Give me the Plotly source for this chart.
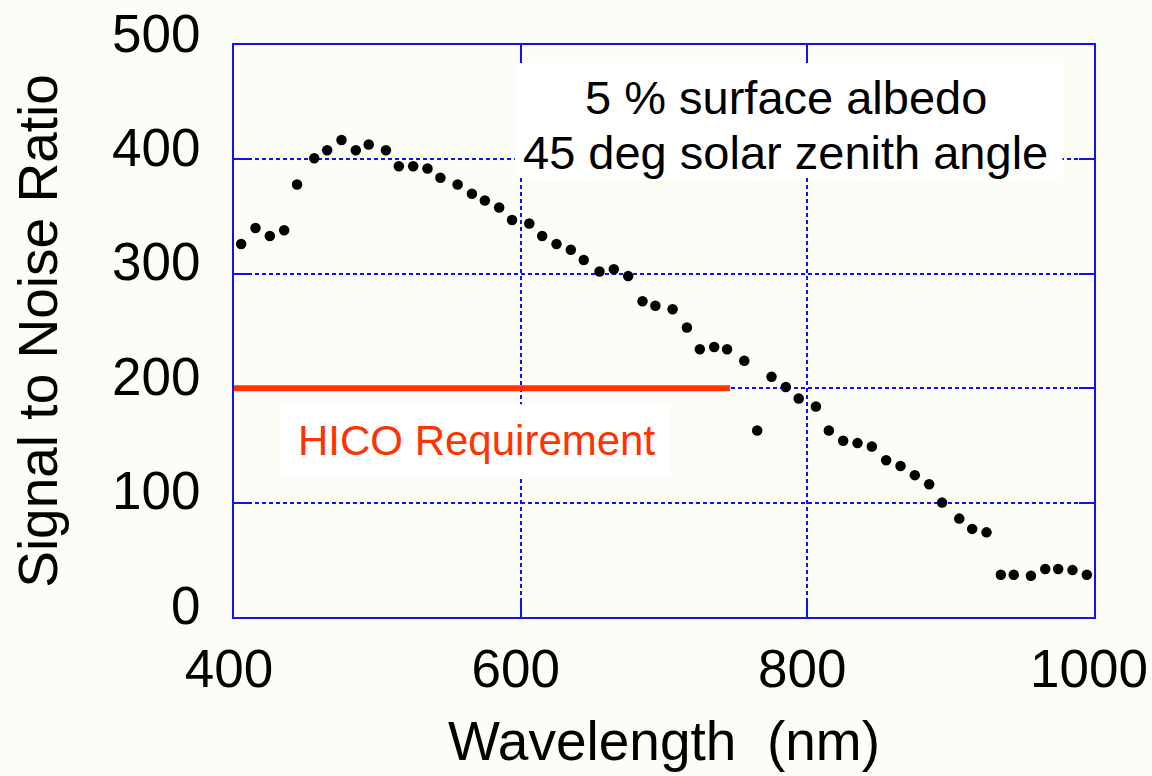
import plotly.graph_objects as go

wavelength_nm = [405, 415, 425, 435, 444, 456, 465, 475, 485, 494,
                 506, 515, 525, 535, 544, 556, 566, 575, 585, 594,
                 606, 615, 625, 635, 644, 655, 665, 675, 685, 694,
                 706, 716, 725, 735, 744, 756, 765, 775, 785, 794,
                 806, 815, 825, 835, 845, 855, 865, 875, 885, 894,
                 906, 915, 925, 935, 944, 956, 966, 975, 985, 995]
snr = [326, 340, 333, 338, 378, 401, 408, 417, 408, 413,
       408, 394, 394, 392, 384, 378, 370, 364, 358, 347,
       344, 333, 326, 321, 312, 302, 304, 298, 276, 272,
       269, 253, 234, 236, 234, 224, 163, 210, 201, 191,
       184, 163, 154, 152, 149, 137, 132, 124, 116, 100,
       86, 77, 74, 37, 37, 36, 42, 42, 41, 37]

req_x = [400, 746]
req_y = [200, 200]

x_ticks = [400, 600, 800, 1000]
y_ticks = [0, 100, 200, 300, 400, 500]

FONT = "Liberation Sans, Arial, sans-serif"
BLUE = "#1010f0"
RED = "#ff3300"
BG = "#fdfdf8"

fig = go.Figure()
fig.add_trace(go.Scatter(x=wavelength_nm, y=snr, mode="markers",
                         marker=dict(color="black", size=10.5),
                         showlegend=False, cliponaxis=False))
fig.add_trace(go.Scatter(x=req_x, y=req_y, mode="lines",
                         line=dict(color=RED, width=6),
                         showlegend=False))

# white boxes behind texts (above grid, below traces)
fig.add_shape(type="rect", xref="x", yref="y", x0=596, x1=978, y0=384, y1=484,
              fillcolor="white", line=dict(width=0), layer="between")
fig.add_shape(type="rect", xref="x", yref="y", x0=432, x1=704, y0=123, y1=186,
              fillcolor="white", line=dict(width=0), layer="between")

fig.add_annotation(x=785, y=454, xref="x", yref="y", text="5 % surface albedo",
                   showarrow=False, font=dict(family=FONT, size=47, color="black"))
fig.add_annotation(x=785, y=406, xref="x", yref="y", text="45 deg solar zenith angle",
                   showarrow=False, font=dict(family=FONT, size=47, color="black"))
fig.add_annotation(x=569, y=154, xref="x", yref="y", text="HICO Requirement",
                   showarrow=False, font=dict(family=FONT, size=42, color=RED))

axis_common = dict(showline=True, linecolor=BLUE, linewidth=2, mirror="allticks",
                   ticks="inside", ticklen=15, tickwidth=2, tickcolor=BLUE,
                   showgrid=True, gridcolor=BLUE, gridwidth=2, griddash="4px,3px",
                   zeroline=False, automargin=False,
                   tickfont=dict(family=FONT, size=53, color="black"))

fig.update_xaxes(range=[400, 1000], tickvals=x_ticks, ticklabelshift=-5,
                 ticklabelstandoff=4,
                 title=dict(text="Wavelength  (nm)", font=dict(family=FONT, size=55, color="black"),
                            standoff=25),
                 **axis_common)
fig.update_yaxes(range=[0, 500], tickvals=y_ticks, ticklabelshift=-12,
                 ticklabelstandoff=21, layer="below traces",
                 title=dict(text="Signal to Noise Ratio", font=dict(family=FONT, size=55, color="black"),
                            standoff=37),
                 **axis_common)

fig.update_layout(width=1152, height=776, margin=dict(l=234, r=58, t=45, b=159),
                  paper_bgcolor=BG, plot_bgcolor=BG)

fig.write_html("out.html", config={"displayModeBar": False},
               post_script="document.body.style.margin='0';document.body.style.background='%s';" % BG)
